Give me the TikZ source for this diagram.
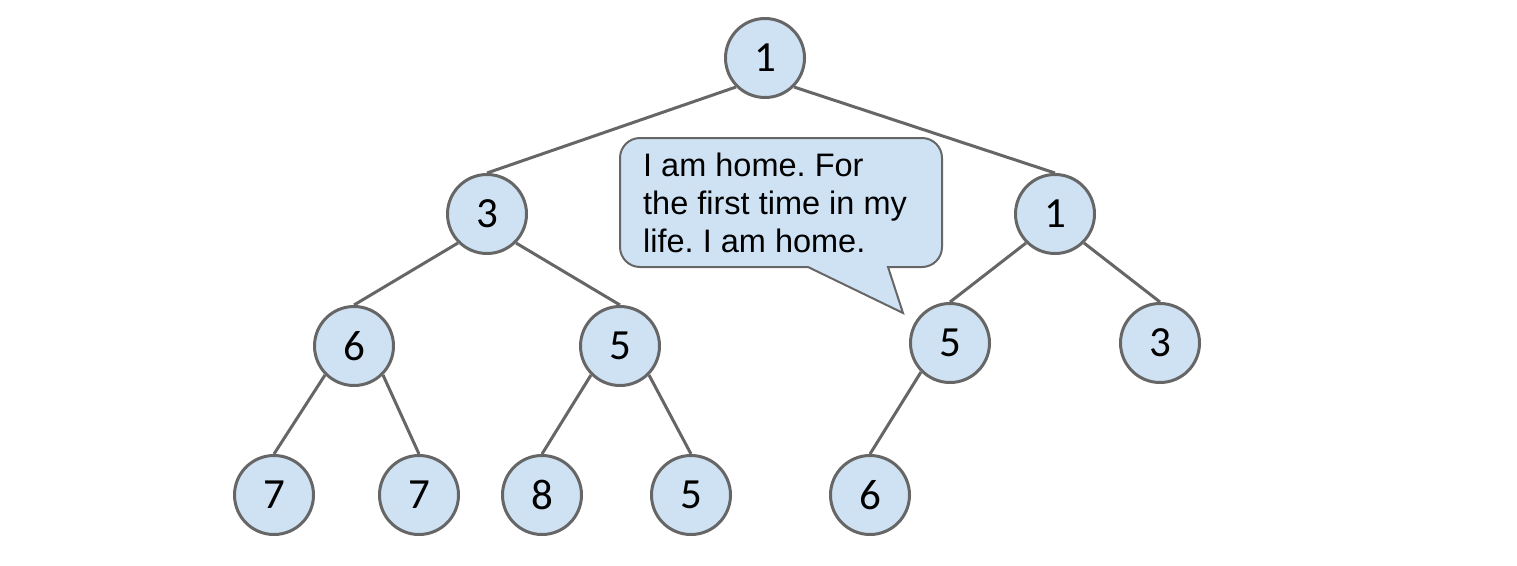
\documentclass[tikz,border=0pt]{standalone}
\usepackage{fontspec}
\setmainfont{Liberation Sans}
\newfontfamily\digitfont{Carlito}
\definecolor{nodefill}{HTML}{CFE2F3}
\definecolor{edgegray}{HTML}{666666}
\frenchspacing
\begin{document}
\begin{tikzpicture}[x=1pt,y=-1pt,
  treenode/.style={circle, draw=edgegray, line width=3pt, fill=nodefill, minimum size=79pt, inner sep=0pt, font=\digitfont\fontsize{43}{43}\selectfont},
  edge/.style={draw=edgegray, line width=3pt},
  bubble/.style={draw=edgegray, line width=2pt, fill=nodefill, line join=miter}]
\useasboundingbox (0,0) rectangle (1517,565);
% nodes
\node[treenode] (r)   at (765,58)  {1};
\node[treenode] (a)   at (487,214) {3};
\node[treenode] (b)   at (1055,214) {1};
\node[treenode] (aa)  at (354,346) {6};
\node[treenode] (ab)  at (620,346) {5};
\node[treenode] (ba)  at (950,343) {5};
\node[treenode] (bb)  at (1160,343) {3};
\node[treenode] (aaa) at (274,495) {7};
\node[treenode] (aab) at (419,495) {7};
\node[treenode] (aba) at (542,495) {8};
\node[treenode] (abb) at (691,495) {5};
\node[treenode] (baa) at (870,495) {6};
% edges
\draw[edge] (r.-135) -- (a.north);
\draw[edge] (r.-45) -- (b.north);
\draw[edge] (a.-135) -- (aa.north);
\draw[edge] (a.-45) -- (ab.north);
\draw[edge] (b.-135) -- (ba.north);
\draw[edge] (b.-45) -- (bb.north);
\draw[edge] (aa.-135) -- (aaa.north);
\draw[edge] (aa.-45) -- (aab.north);
\draw[edge] (ab.-135) -- (aba.north);
\draw[edge] (ab.-45) -- (abb.north);
\draw[edge] (ba.-135) -- (baa.north);
% callout
\coordinate (tip) at (903,313);
\draw[bubble] (808,267) -- (tip) -- (888,267)
  -- (922,267) arc[start angle=90, end angle=0, radius=20] -- (942,158)
  arc[start angle=0, end angle=-90, radius=20] -- (640,138)
  arc[start angle=-90, end angle=-180, radius=20] -- (620,247)
  arc[start angle=180, end angle=90, radius=20] -- cycle;
\node[anchor=north west, inner sep=0pt, align=left, font=\fontsize{32.5}{38}\selectfont] (txt) at (643,153)
  {I am home. For\\the first time in my\\life. I am home.};
\end{tikzpicture}
\end{document}
